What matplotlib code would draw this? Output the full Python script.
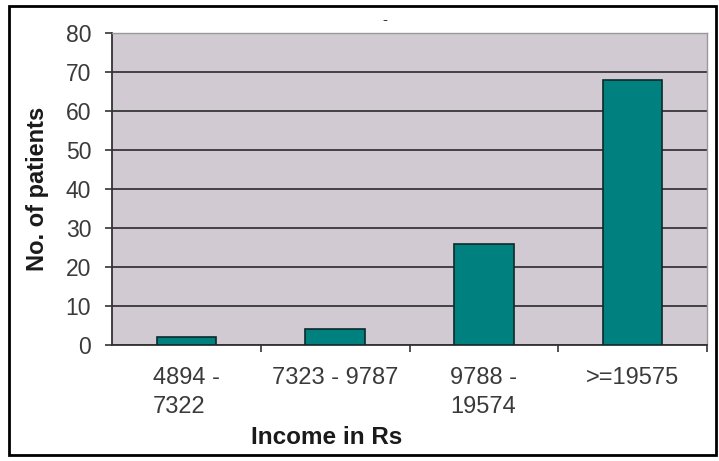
import matplotlib.pyplot as plt
from matplotlib.patches import Rectangle

categories = ["4894 -\n7322", "7323 - 9787", "9788 -\n19574", ">=19575"]
patients = [2, 4, 26, 68]
y_ticks = [0, 10, 20, 30, 40, 50, 60, 70, 80]

plt.rcParams['font.family'] = ['Liberation Sans', 'DejaVu Sans']

fig = plt.figure(figsize=(7.19, 4.61), dpi=100)
ax = fig.add_axes([112 / 719, 1 - 345 / 461, 595 / 719, 312 / 461])

x = range(len(categories))
ax.bar(x, patients, width=0.4, color='#00807f', edgecolor='#0a2a2a', linewidth=1.2, zorder=3)

ax.set_facecolor('#d2cad2')
ax.set_xlim(-0.5, len(categories) - 0.5)
ax.set_ylim(0, 80)
ax.set_yticks(y_ticks)
ax.yaxis.grid(True, color='#2a2a2a', linewidth=1.2, zorder=1)
ax.set_axisbelow(True)

# category labels at centres, tick marks at the boundaries
ax.set_xticks(list(x))
ax.set_xticklabels(categories, multialignment='left', fontsize=17, color='#3a3a3a',
                   linespacing=1.4)
ax.set_xticks([i + 0.5 for i in x], minor=True)
ax.tick_params(axis='x', which='major', length=0, pad=16)
ax.tick_params(axis='x', which='minor', length=5, width=1.2, color='#333333', direction='out')
ax.tick_params(axis='y', length=5, width=1.2, color='#333333', labelsize=16.5,
               labelcolor='#3a3a3a', pad=10)

for side in ['top', 'right']:
    ax.spines[side].set_color('#999999')
    ax.spines[side].set_linewidth(1)
for side in ['left', 'bottom']:
    ax.spines[side].set_color('#333333')
    ax.spines[side].set_linewidth(1.3)

fig.text(38 / 719, 1 - 189 / 461, 'No. of patients', rotation=90, ha='center', va='center',
         fontsize=17, fontweight='bold', color='#1a1a1a')
fig.text(327 / 719, 1 - 437 / 461, 'Income in Rs', ha='center', va='center',
         fontsize=17.5, fontweight='bold', color='#1a1a1a')
fig.text(385 / 719, 1 - 20 / 461, '-', ha='center', va='center', fontsize=11, color='#333333')

fig.patches.append(Rectangle((9 / 719, 1 - 455 / 461), 707 / 719, 449 / 461,
                             transform=fig.transFigure, fill=False,
                             edgecolor='black', linewidth=2))

fig.savefig('out.png', dpi=100)
